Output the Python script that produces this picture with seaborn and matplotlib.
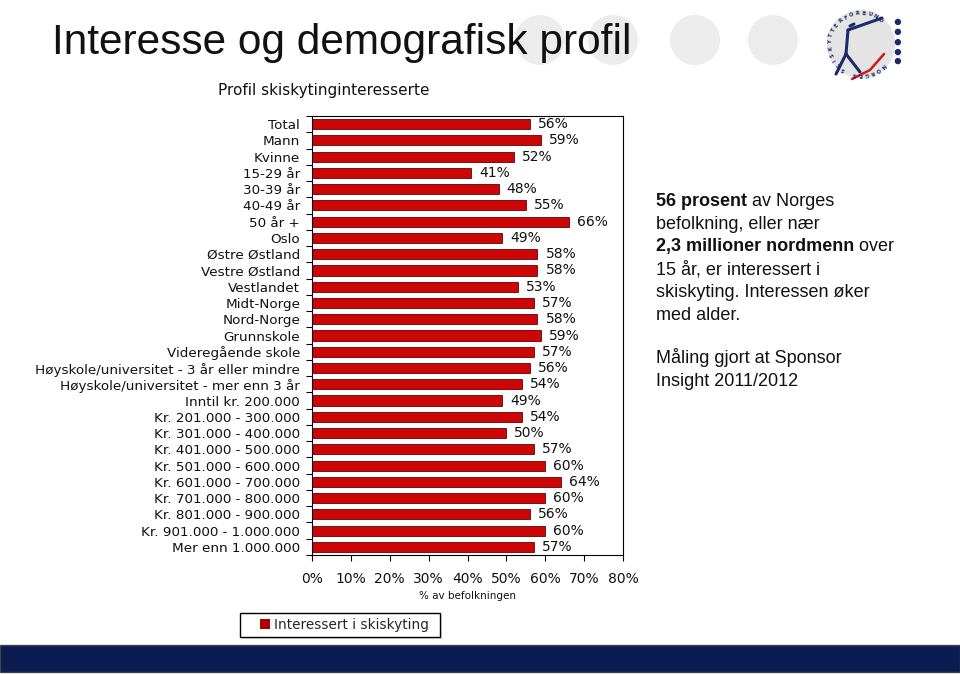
import matplotlib
matplotlib.use('Agg')
import matplotlib.pyplot as plt
import seaborn as sns
import pandas as pd
import numpy as np
from matplotlib.patches import Rectangle, Circle, Patch

# data
categories = ['Total', 'Mann', 'Kvinne', '15-29 år', '30-39 år', '40-49 år', '50 år +',
              'Oslo', 'Østre Østland', 'Vestre Østland', 'Vestlandet', 'Midt-Norge', 'Nord-Norge',
              'Grunnskole', 'Videregående skole', 'Høyskole/universitet - 3 år eller mindre',
              'Høyskole/universitet - mer enn 3 år', 'Inntil kr. 200.000',
              'Kr. 201.000 - 300.000', 'Kr. 301.000 - 400.000', 'Kr. 401.000 - 500.000',
              'Kr. 501.000 - 600.000', 'Kr. 601.000 - 700.000', 'Kr. 701.000 - 800.000',
              'Kr. 801.000 - 900.000', 'Kr. 901.000 - 1.000.000', 'Mer enn 1.000.000']
values = [56, 59, 52, 41, 48, 55, 66,
          49, 58, 58, 53, 57, 58,
          59, 57, 56, 54, 49,
          54, 50, 57, 60, 64, 60, 56, 60, 57]
xticks = [0, 10, 20, 30, 40, 50, 60, 70, 80]

df = pd.DataFrame({'Gruppe': categories, 'Andel': values})

sns.set_style('white')
plt.rcParams['font.family'] = ['DejaVu Sans']

fig = plt.figure(figsize=(9.6, 6.74), dpi=100)
px = fig.dpi_scale_trans  # inches; 1 inch = 100 px

# grey decoration circles behind the title
for cx in [540, 613, 695, 773]:
    fig.patches.append(Circle((cx / 100, (674 - 40) / 100), 0.25, transform=px,
                              facecolor='#ececec', edgecolor='none', zorder=0))

fig.text(52 / 960, 1 - 43 / 674, 'Interesse og demografisk profil', fontsize=30.5,
         family='Liberation Sans', va='center', color='#111111')
fig.text(218 / 960, 1 - 90 / 674, 'Profil skiskytinginteresserte', fontsize=11,
         va='center', color='#111111')

# bar chart
ax = fig.add_axes([312 / 960, 1 - 555 / 674, 311 / 960, 439 / 674])
sns.barplot(data=df, x='Andel', y='Gruppe', orient='h', color='#cc0606', saturation=1,
            edgecolor='#6a0000', linewidth=0.6, width=0.62, ax=ax)
for i, v in enumerate(values):
    ax.annotate(f'{v}%', (v, i), xytext=(8, 0), textcoords='offset pixels',
                va='center', ha='left', fontsize=10, color='#111111')

ax.set_xlim(0, 80)
ax.set_xticks(xticks)
ax.set_xticklabels([f'{t}%' for t in xticks], fontsize=10, color='#111111')
ax.set_xlabel('% av befolkningen', fontsize=7.5, labelpad=4, color='#111111')
ax.set_ylabel('')
ax.set_yticks(range(len(categories)))
ax.set_yticklabels(categories, fontsize=9.7, color='#111111')
ax.set_yticks(np.arange(-0.5, len(categories)), minor=True)
ax.tick_params(axis='x', bottom=True, direction='out', length=4, width=0.8, color='black', pad=8)
ax.tick_params(axis='y', which='major', left=False, pad=5)
ax.tick_params(axis='y', which='minor', left=True, direction='out', length=4, width=0.8, color='black')
for s in ax.spines.values():
    s.set_visible(True)
    s.set_color('black')
    s.set_linewidth(0.8)

# legend box
fig.patches.append(Rectangle((2.42, (674 - 639) / 100), 2.0, 0.24, transform=px,
                             facecolor='#dddddd', edgecolor='none', zorder=1))
fig.patches.append(Rectangle((2.40, (674 - 637) / 100), 2.0, 0.24, transform=px,
                             facecolor='white', edgecolor='black', linewidth=1, zorder=2))
fig.legend(handles=[Patch(facecolor='#b00000', edgecolor='none')],
           labels=['Interessert i skiskyting'], loc='center left',
           bbox_to_anchor=(2.48, (674 - 625) / 100), bbox_transform=px,
           frameon=False, handlelength=0.7, handleheight=0.7, handletextpad=0.3,
           fontsize=9.8)

# right hand text
txt = dict(fontsize=13, family='Liberation Sans', color='#111111', va='baseline')
x0 = 656 / 960
lines = [('56 prosent', ' av Norges'), ('', 'befolkning, eller nær'),
         ('2,3 millioner nordmenn', ' over'), ('', '15 år, er interessert i'),
         ('', 'skiskyting. Interessen øker'), ('', 'med alder.')]
for k, (b, r) in enumerate(lines):
    y = 1 - (206 + k * 22.7) / 674
    if b:
        t = fig.text(x0, y, b, fontweight='bold', **txt)
        ax.annotate(r, xy=(1, y), xycoords=(t, 'figure fraction'), annotation_clip=False, **txt)
    else:
        fig.text(x0, y, r, **txt)
for k, r in enumerate(['Måling gjort at Sponsor', 'Insight 2011/2012']):
    fig.text(x0, 1 - (363 + k * 22.7) / 674, r, **txt)

# navy bottom strip
fig.patches.append(Rectangle((0, 0.02), 9.6, 0.27, transform=px, facecolor='#0b1c52',
                             edgecolor='#444444', linewidth=1, zorder=1))

# logo
lg = fig.add_axes([(861 - 45) / 960, (674 - 44 - 45) / 674, 90 / 960, 90 / 674])
lg.set_xlim(-1, 1)
lg.set_ylim(-1, 1)
lg.set_aspect('equal')
lg.axis('off')
lg.add_patch(Circle((0, 0), 0.76, facecolor='#e4e4e4', edgecolor='none'))
navy = '#1a2a6c'
ring = 'NORGES SKISKYTTERFORBUND'
for j, ch in enumerate(ring):
    a = np.deg2rad(315 - j * 11.5)
    lg.text(0.68 * np.cos(a), 0.68 * np.sin(a), ch, rotation=np.rad2deg(a) - 90,
            ha='center', va='center', fontsize=3.8, fontweight='bold', color=navy)
for yy in [0.49, 0.27, 0.04, -0.18, -0.38]:
    lg.add_patch(Circle((0.82, yy), 0.055, color=navy))
pts = lambda p: ((p[0] - 861) / 45, (44 - p[1]) / 45)
for a_, b_ in [((848, 30), (882, 18)), ((848, 30), (846, 54)), ((846, 54), (836, 74)),
               ((846, 54), (860, 72)), ((850, 26), (854, 24))]:
    (x1, y1), (x2, y2) = pts(a_), pts(b_)
    lg.plot([x1, x2], [y1, y2], color=navy, lw=2.2, solid_capstyle='round')
lg.plot(*zip(pts((852, 79)), pts((870, 70)), pts((884, 54))), color='#d01818', lw=1.8)

fig.savefig('out.png', dpi=100)
